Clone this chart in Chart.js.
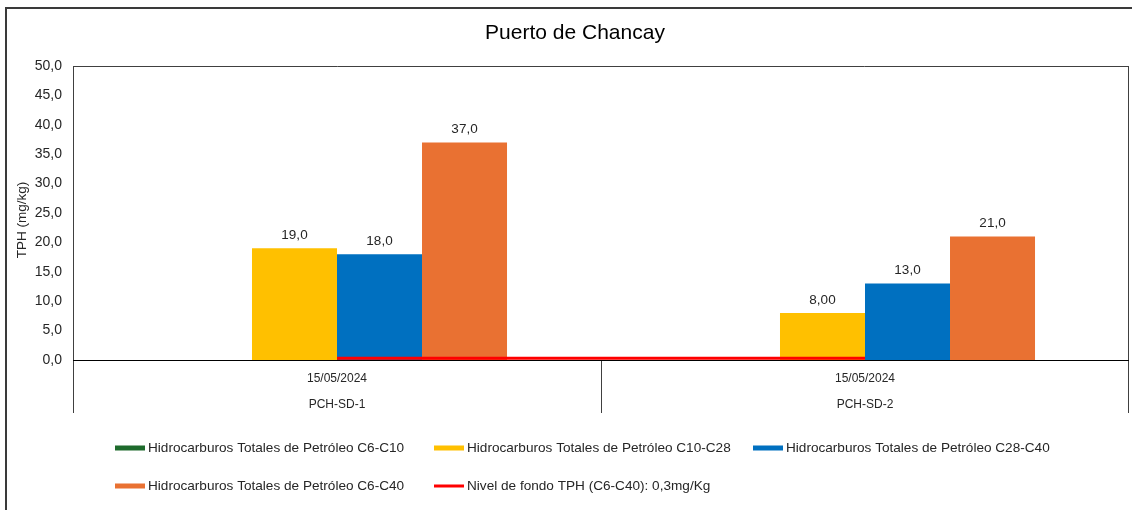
<!DOCTYPE html>
<html><head><meta charset="utf-8">
<script src="https://cdn.jsdelivr.net/npm/chart.js@4.4.1/dist/chart.umd.min.js"></script>
<style>html,body{margin:0;padding:0;background:#fff}#wrap{width:1132px;height:510px}</style>
</head><body><div id="wrap"><canvas id="c" width="1132" height="510"></canvas></div>
<script>
// ---- data ----
const chartTitle = 'Puerto de Chancay';
const yAxisTitle = 'TPH (mg/kg)';
const sampleDates = ['15/05/2024', '15/05/2024'];
const stations = ['PCH-SD-1', 'PCH-SD-2'];
const seriesNames = [
  'Hidrocarburos Totales de Petróleo C6-C10',
  'Hidrocarburos Totales de Petróleo C10-C28',
  'Hidrocarburos Totales de Petróleo C28-C40',
  'Hidrocarburos Totales de Petróleo C6-C40',
  'Nivel de fondo TPH (C6-C40): 0,3mg/Kg'
];
const tphC6C10 = [0, 0];
const tphC10C28 = [19, 8];
const tphC28C40 = [18, 13];
const tphC6C40 = [37, 21];
const nivelFondo = [0.3, 0.3];
const yMin = 0, yMax = 50, yStep = 5;

const colors = ['#1E6B2C', '#FFC000', '#0070C0', '#E97132', '#FF0000'];
const FONT = 'Arial, "Liberation Sans", sans-serif';
const TXT = '#262626';

function fmtTick(v) { return Number(v).toFixed(1).replace('.', ','); }
function fmtVal(v) { return Number(v).toPrecision(3).replace('.', ','); }

const decor = {
  id: 'decor',
  beforeDatasetsDraw(chart) {
    const ctx = chart.ctx, a = chart.chartArea, xs = chart.scales.x;
    ctx.save();
    // outer border
    ctx.fillStyle = '#3a3a3a';
    ctx.fillRect(5, 7, 2, 510);
    ctx.fillRect(5, 7, 1132, 2);
    // plot frame
    ctx.strokeStyle = '#404040';
    ctx.lineWidth = 1;
    ctx.beginPath();
    ctx.moveTo(a.left + 0.5, a.top + 0.5); ctx.lineTo(a.right - 0.5, a.top + 0.5);
    ctx.moveTo(a.right - 0.5, a.top); ctx.lineTo(a.right - 0.5, a.bottom + 53);
    ctx.moveTo(a.left + 0.5, a.top); ctx.lineTo(a.left + 0.5, a.bottom + 53);
    ctx.stroke();
    // category separators
    const n = stations.length;
    ctx.beginPath();
    for (let i = 1; i < n; i++) {
      const xm = Math.round((xs.getPixelForValue(i - 1) + xs.getPixelForValue(i)) / 2) + 0.5;
      ctx.moveTo(xm, a.bottom); ctx.lineTo(xm, a.bottom + 53);
    }
    ctx.stroke();
    // zero line
    ctx.strokeStyle = '#000';
    ctx.beginPath();
    ctx.moveTo(a.left, a.bottom + 0.5); ctx.lineTo(a.right, a.bottom + 0.5);
    ctx.stroke();
    // y axis title
    ctx.fillStyle = TXT;
    ctx.font = '13.5px ' + FONT;
    ctx.textAlign = 'center';
    ctx.textBaseline = 'middle';
    ctx.translate(22, (a.top + a.bottom) / 2 + 7);
    ctx.rotate(-Math.PI / 2);
    ctx.fillText(yAxisTitle, 0, 0);
    ctx.restore();
  },
  afterDraw(chart) {
    const ctx = chart.ctx, a = chart.chartArea, xs = chart.scales.x;
    ctx.save();
    // value labels
    ctx.fillStyle = TXT;
    ctx.font = '13.5px ' + FONT;
    ctx.textAlign = 'center';
    ctx.textBaseline = 'middle';
    chart.data.datasets.forEach((ds, di) => {
      if (ds.type === 'line') return;
      const meta = chart.getDatasetMeta(di);
      meta.data.forEach((el, i) => {
        const v = ds.data[i];
        if (v === null || v <= 0) return;
        ctx.fillText(fmtVal(v), el.x, el.y - 13);
      });
    });
    // category labels
    ctx.font = '12px ' + FONT;
    for (let i = 0; i < stations.length; i++) {
      const x = xs.getPixelForValue(i);
      ctx.fillText(sampleDates[i], x, a.bottom + 19);
      ctx.fillText(stations[i], x, a.bottom + 45);
    }
    // legend
    ctx.font = '13.6px ' + FONT;
    ctx.textAlign = 'left';
    const colW = 319, x0 = 115, rowY = [a.bottom + 88, a.bottom + 126];
    chart.data.datasets.forEach((ds, di) => {
      const r = Math.floor(di / 3), c = di % 3;
      const x = x0 + c * colW, y = rowY[r];
      ctx.fillStyle = ds.type === 'line' ? ds.borderColor : ds.backgroundColor;
      if (ds.type === 'line') ctx.fillRect(x, y - 1.5, 30, 3);
      else ctx.fillRect(x, y - 2.5, 30, 5);
      ctx.fillStyle = TXT;
      ctx.fillText(ds.label, x + 33, y);
    });
    ctx.restore();
  }
};

const barData = [tphC6C10, tphC10C28, tphC28C40, tphC6C40];
const datasets = barData.map((d, i) => ({
  type: 'bar', label: seriesNames[i], data: d,
  backgroundColor: colors[i], borderWidth: 0,
  categoryPercentage: 0.644, barPercentage: 1.0, order: 2
}));
datasets.push({
  type: 'line', label: seriesNames[4], data: nivelFondo,
  borderColor: colors[4], backgroundColor: colors[4], borderWidth: 3,
  pointRadius: 0, fill: false, order: 1
});

new Chart(document.getElementById('c'), {
  data: { labels: stations, datasets },
  options: {
    responsive: false, animation: false, devicePixelRatio: 1,
    layout: { padding: { left: 21, right: 3, top: 0, bottom: 150 } },
    plugins: {
      legend: { display: false }, tooltip: { enabled: false },
      title: { display: true, text: chartTitle, color: '#000',
        font: { family: FONT, size: 21, weight: 'normal' },
        padding: { top: 20.4, bottom: 20.4 } }
    },
    scales: {
      x: { display: false, offset: true },
      y: {
        min: yMin, max: yMax,
        afterFit(s) { s.width = 52; },
        grid: { display: false, drawTicks: false },
        border: { display: false },
        ticks: { stepSize: yStep, padding: 11, color: TXT,
          font: { family: FONT, size: 14 }, callback: v => fmtTick(v) },
        title: { display: false }
      }
    }
  },
  plugins: [decor]
});
</script></body></html>
